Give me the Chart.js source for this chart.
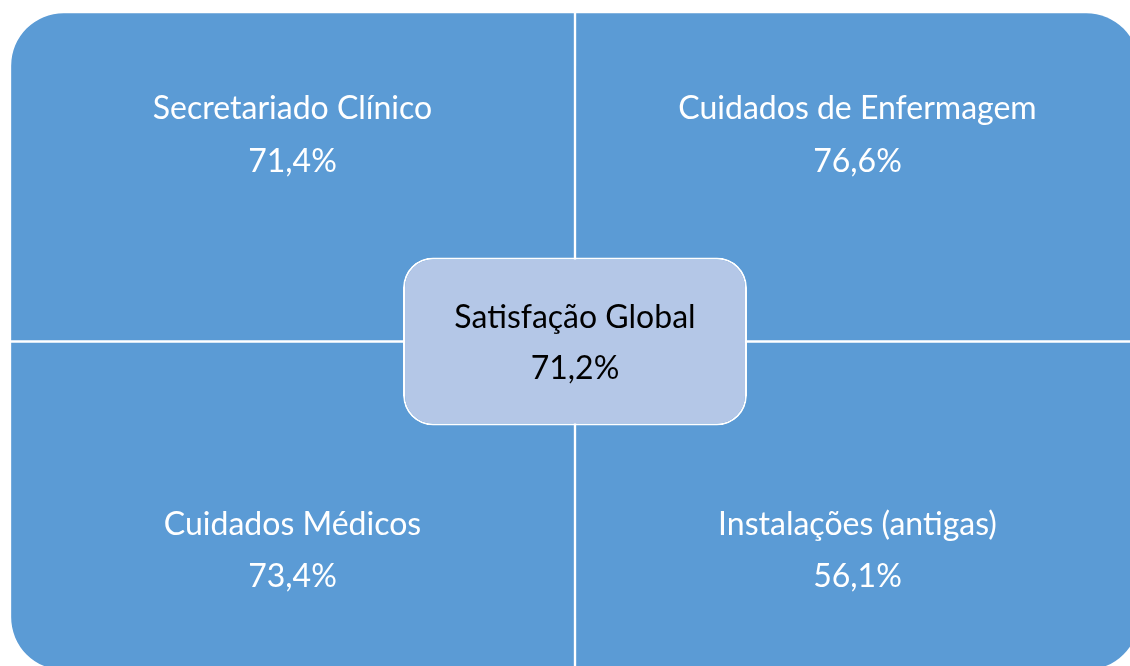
<!DOCTYPE html>
<html>
<head>
<meta charset="utf-8">
<script src="https://cdn.jsdelivr.net/npm/chart.js@4"></script>
<style>
  html, body { margin: 0; padding: 0; background: #ffffff; overflow: hidden; }
  #wrap { width: 1160px; height: 700px; }
</style>
</head>
<body>
<div id="wrap"><canvas id="matrix-chart" width="1160" height="700"></canvas></div>
<script>
// Quadrant areas and their satisfaction scores
const columns = ['esquerda', 'direita'];
const topLabels = ['Secretariado Clínico', 'Cuidados de Enfermagem'];
const topValues = [71.4, 76.6];
const bottomLabels = ['Cuidados Médicos', 'Instalações (antigas)'];
const bottomValues = [73.4, 56.1];
const globalLabel = 'Satisfação Global';
const globalValue = 71.2;

// Row spans on the (hidden) y scale: bottom row 0-1, top row 1-2
const topRow = [1, 2];
const bottomRow = [0, 1];
const centerSpan = [0.745, 1.255];

const QUAD_BLUE = '#5B9BD5';
const CENTER_BLUE = '#B4C7E7';
const FONT = '32px Lato, "Open Sans", sans-serif';

function pct(v) {
    return v.toFixed(1).replace('.', ',') + '%';
}

// Outer corners rounded, inner corners square
function quadRadius(isTop) {
    return (ctx) => {
        const left = ctx.dataIndex === 0;
        return {
            topLeft: isTop && left ? 54 : 0,
            topRight: isTop && !left ? 54 : 0,
            bottomLeft: !isTop && left ? 54 : 0,
            bottomRight: !isTop && !left ? 54 : 0
        };
    };
}

// Draws the texts onto the boxes drawn by the bar controller
const matrixLabels = {
    id: 'matrixLabels',
    afterDatasetsDraw(chart) {
        const ctx = chart.ctx;
        ctx.save();
        ctx.font = FONT;
        ctx.textAlign = 'center';
        ctx.textBaseline = 'middle';

        const rows = [
            { meta: chart.getDatasetMeta(0), labels: topLabels, values: topValues, top: true },
            { meta: chart.getDatasetMeta(1), labels: bottomLabels, values: bottomValues, top: false }
        ];
        ctx.fillStyle = '#ffffff';
        rows.forEach((row) => {
            row.meta.data.forEach((bar, i) => {
                const y0 = Math.min(bar.y, bar.base);
                const y1 = Math.max(bar.y, bar.base);
                if (row.top) {
                    ctx.fillText(row.labels[i], bar.x, y0 + 97);
                    ctx.fillText(pct(row.values[i]), bar.x, y0 + 150);
                } else {
                    ctx.fillText(row.labels[i], bar.x, y1 - 146);
                    ctx.fillText(pct(row.values[i]), bar.x, y1 - 94);
                }
            });
        });

        const center = chart.getDatasetMeta(2).data[0];
        const cy = (center.y + center.base) / 2;
        ctx.fillStyle = '#000000';
        ctx.fillText(globalLabel, center.x, cy - 24);
        ctx.fillText(pct(globalValue), center.x, cy + 27);
        ctx.restore();
    }
};

function createMatrixChart() {
    const el = document.getElementById('matrix-chart');
    if (!el) {
        console.warn('Matrix chart canvas not found');
        return;
    }

    try {
        const data = {
            labels: columns,
            datasets: [{
                label: 'Topo',
                data: [topRow, topRow],
                backgroundColor: QUAD_BLUE,
                borderColor: '#ffffff',
                borderWidth: 1.5,
                borderSkipped: false,
                borderRadius: quadRadius(true),
                grouped: false,
                barPercentage: 1,
                categoryPercentage: 1,
                order: 1
            }, {
                label: 'Base',
                data: [bottomRow, bottomRow],
                backgroundColor: QUAD_BLUE,
                borderColor: '#ffffff',
                borderWidth: 1.5,
                borderSkipped: false,
                borderRadius: quadRadius(false),
                grouped: false,
                barPercentage: 1,
                categoryPercentage: 1,
                order: 1
            }, {
                // lowest order is drawn last, so the centre box sits on top
                label: globalLabel,
                xAxisID: 'x2',
                data: [centerSpan],
                backgroundColor: CENTER_BLUE,
                borderColor: '#ffffff',
                borderWidth: 2,
                borderSkipped: false,
                borderRadius: 30,
                grouped: false,
                barPercentage: 0.3044,
                categoryPercentage: 1,
                order: 0
            }]
        };

        new Chart(el, {
            type: 'bar',
            data: data,
            options: {
                responsive: false,
                animation: false,
                layout: {
                    padding: { left: 10, top: 12, right: 20, bottom: 29 }
                },
                scales: {
                    x: { type: 'category', display: false },
                    x2: { type: 'category', labels: [globalLabel], display: false },
                    y: { type: 'linear', min: 0, max: 2, display: false }
                },
                plugins: {
                    legend: { display: false },
                    tooltip: { enabled: false }
                }
            },
            plugins: [matrixLabels]
        });
    } catch (error) {
        console.error('Error creating matrix chart:', error);
    }
}

createMatrixChart();
</script>
</body>
</html>
